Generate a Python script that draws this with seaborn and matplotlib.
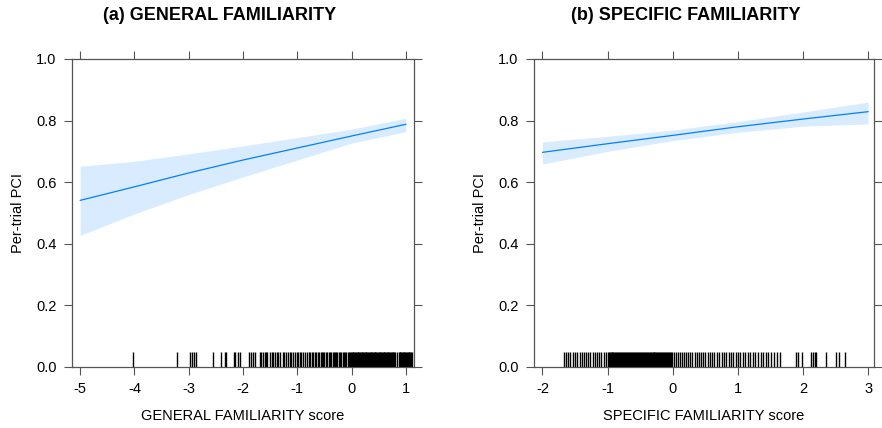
import numpy as np
import pandas as pd
import matplotlib
matplotlib.use("Agg")
import matplotlib.pyplot as plt
import seaborn as sns

sns.set_theme(style="white")
plt.rcParams['font.family'] = ['Liberation Sans', 'DejaVu Sans']
plt.rcParams['text.color'] = 'black'
plt.rcParams['axes.labelcolor'] = 'black'

# effect curves
general_x = [-5, -4, -3, -2, -1, 0, 1]
general_fit = [0.541, 0.585, 0.630, 0.672, 0.711, 0.750, 0.788]
general_lower = [0.427, 0.497, 0.560, 0.617, 0.672, 0.727, 0.764]
general_upper = [0.652, 0.668, 0.692, 0.718, 0.745, 0.772, 0.808]

specific_x = [-2, -1, 0, 1, 2, 3]
specific_fit = [0.697, 0.725, 0.752, 0.780, 0.805, 0.829]
specific_lower = [0.659, 0.700, 0.735, 0.762, 0.782, 0.789]
specific_upper = [0.731, 0.749, 0.769, 0.797, 0.828, 0.860]

# rug of observed scores
general_rug = [-4.02, -3.22, -2.97, -2.94, -2.90, -2.87, -2.55, -2.40, -2.34, -2.31,
               -2.17, -2.14, -2.10, -2.06, -1.89, -1.86, -1.82, -1.78, -1.69, -1.66,
               -1.63, -1.60, -1.57, -1.55, -1.51, -1.47, -1.44, -1.41, -1.37, -1.35,
               -1.31, -1.27, -1.24, -1.20, -1.17, -1.14, -1.11, -1.07, -1.04, -1.01,
               -0.98, -0.95, -0.93, -0.90, -0.86, -0.82, -0.79, -0.76, -0.73, -0.71,
               -0.68, -0.65, -0.62, -0.60, -0.57, -0.55, -0.52, -0.50, -0.47, -0.45,
               -0.42, -0.40, -0.37, -0.35, -0.33, -0.30, -0.28, -0.26, -0.23, -0.21,
               -0.19, -0.16, -0.14, -0.12, -0.10, -0.07, -0.05, -0.03, -0.01,
               0.005, 0.02, 0.035, 0.05, 0.065, 0.08, 0.095, 0.11, 0.125, 0.14, 0.155,
               0.17, 0.185, 0.20, 0.215, 0.23, 0.245, 0.26, 0.275, 0.29, 0.305, 0.32,
               0.335, 0.35, 0.365, 0.38, 0.395, 0.41, 0.425, 0.44, 0.455, 0.47, 0.485,
               0.50, 0.515, 0.53, 0.545, 0.56, 0.575, 0.59, 0.605, 0.62, 0.635, 0.65,
               0.665, 0.68, 0.695, 0.71, 0.725, 0.74, 0.755, 0.77, 0.785, 0.80, 0.84,
               0.87, 0.885, 0.90, 0.915, 0.93, 0.945, 0.96, 0.975, 0.99, 1.005, 1.02,
               1.035, 1.05, 1.065, 1.08, 1.095, 1.11]
specific_rug = [-1.67, -1.64, -1.61, -1.58, -1.53, -1.50, -1.47, -1.43, -1.40, -1.37,
                -1.33, -1.30, -1.27, -1.23, -1.20, -1.16, -1.13, -1.10, -1.06, -1.03,
                -1.00, -0.985, -0.97, -0.955, -0.94, -0.925, -0.91, -0.895, -0.88,
                -0.865, -0.85, -0.835, -0.82, -0.805, -0.79, -0.775, -0.76, -0.745,
                -0.73, -0.715, -0.70, -0.685, -0.67, -0.655, -0.64, -0.625, -0.61,
                -0.595, -0.58, -0.565, -0.55, -0.535, -0.52, -0.505, -0.49, -0.475,
                -0.46, -0.445, -0.43, -0.415, -0.40, -0.385, -0.37, -0.355, -0.34,
                -0.325, -0.31, -0.295, -0.28, -0.265, -0.25, -0.235, -0.22, -0.205,
                -0.19, -0.175, -0.16, -0.145, -0.13, -0.115, -0.10, -0.085, -0.07,
                -0.055, -0.04, -0.025, -0.01, 0.02, 0.05, 0.08, 0.11, 0.14, 0.17, 0.21,
                0.24, 0.27, 0.30, 0.34, 0.37, 0.40, 0.44, 0.47, 0.50, 0.54, 0.57, 0.61,
                0.64, 0.68, 0.71, 0.75, 0.78, 0.82, 0.86, 0.89, 0.93, 0.97, 1.00, 1.04,
                1.08, 1.11, 1.15, 1.19, 1.23, 1.27, 1.31, 1.35, 1.39, 1.43, 1.47, 1.51,
                1.55, 1.60, 1.65, 1.89, 1.93, 1.98, 2.12, 2.15, 2.18, 2.20, 2.35, 2.50,
                2.56, 2.64]

general_ticks = [-5, -4, -3, -2, -1, 0, 1]
specific_ticks = [-2, -1, 0, 1, 2, 3]
y_ticks = [0.0, 0.2, 0.4, 0.6, 0.8, 1.0]

line_col = "#0080ff"
frame_col = "#555555"

fig = plt.figure(figsize=(8.82, 4.28), dpi=100)
ax1 = fig.add_axes([72/882, 61/428, 342/882, 308/428])
ax2 = fig.add_axes([534/882, 61/428, 340/882, 308/428])


def effect_panel(ax, x, fit, lo, hi, rug, ticks, xlim, xlabel):
    df = pd.DataFrame({"x": x, "fit": fit, "lo": lo, "hi": hi})
    ax.fill_between(df["x"], df["lo"], df["hi"], color=line_col, alpha=0.15, lw=0)
    sns.lineplot(data=df, x="x", y="fit", ax=ax, color=line_col, lw=0.9)
    sns.rugplot(x=rug, ax=ax, height=0.048, color="black", lw=1.1, alpha=1)
    ax.set_xlim(*xlim)
    ax.set_ylim(0, 1)
    ax.set_xticks(ticks)
    ax.set_xticklabels([str(t) for t in ticks])
    ax.set_yticks(y_ticks)
    ax.set_yticklabels([f"{t:.1f}" for t in y_ticks])
    ax.set_xlabel(xlabel, fontsize=10.5, labelpad=9)
    ax.set_ylabel("Per-trial PCI", fontsize=10.5, labelpad=8)
    ax.tick_params(axis="both", which="both", direction="out", length=6, width=0.8,
                   color=frame_col, labelcolor="black", labelsize=10.5, top=True,
                   right=True, bottom=True, left=True, pad=5)
    for s in ax.spines.values():
        s.set_color(frame_col)
        s.set_linewidth(0.9)


effect_panel(ax1, general_x, general_fit, general_lower, general_upper, general_rug,
             general_ticks, (-5.15, 1.15), "GENERAL FAMILIARITY score")
effect_panel(ax2, specific_x, specific_fit, specific_lower, specific_upper, specific_rug,
             specific_ticks, (-2.13, 3.09), "SPECIFIC FAMILIARITY score")

fig.text(220/882, 1 - 16/428, "(a) GENERAL FAMILIARITY", ha="center", va="center",
         fontsize=13, fontweight="bold")
fig.text(686/882, 1 - 16/428, "(b) SPECIFIC FAMILIARITY", ha="center", va="center",
         fontsize=13, fontweight="bold")

fig.savefig("out.png", dpi=100)
